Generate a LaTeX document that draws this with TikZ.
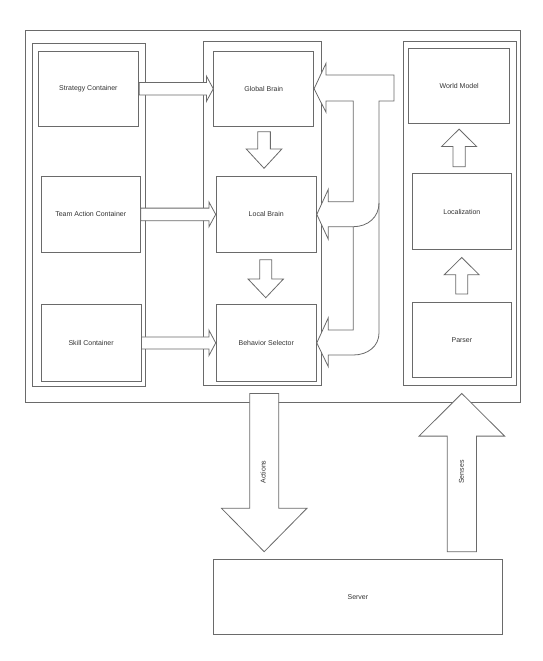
\documentclass[tikz,border=0pt]{standalone}
\usepackage{fontspec}
\setmainfont{Liberation Sans}
\usetikzlibrary{calc}
\definecolor{ln}{HTML}{6A6A6A}
\definecolor{tx}{HTML}{333333}
\tikzset{
  frame/.style={draw=ln, line width=0.8pt},
  box/.style={draw=ln, line width=0.8pt, fill=white, inner sep=0pt, anchor=north west, text=tx,
    font=\fontsize{7}{8.4}\selectfont, align=center},
  blk/.style={draw=ln, line width=0.8pt, fill=white, line join=miter},
  lbl/.style={text=tx, font=\fontsize{7}{8.4}\selectfont, inner sep=0pt}
}
% right-pointing block arrow: from, to, shaft half, head half, head length
\newcommand{\rblock}[5]{%
  \draw[blk] let \p1=(#1), \p2=(#2) in
    (\x1,\y1+#3) -- (\x2-#5,\y1+#3) -- (\x2-#5,\y1+#4) -- (\x2,\y1)
    -- (\x2-#5,\y1-#4) -- (\x2-#5,\y1-#3) -- (\x1,\y1-#3) -- cycle;}
% vertical block arrow: tail point, tip point, shaft half, head half, head length (signed toward tail)
\newcommand{\vblock}[5]{%
  \draw[blk] let \p1=(#1), \p2=(#2) in
    (\x2-#3,\y1) -- (\x2-#3,\y2+#5) -- (\x2-#4,\y2+#5) -- (\x2,\y2)
    -- (\x2+#4,\y2+#5) -- (\x2+#3,\y2+#5) -- (\x2+#3,\y1) -- cycle;}
\begin{document}
\begin{tikzpicture}[x=1pt,y=-1pt]
\useasboundingbox (0,0) rectangle (542,661);

% outer frame and containers
\draw[frame] (25,30) rectangle (520.7,402.7);
\draw[frame] (32.7,43) rectangle (145.3,386.7);
\draw[frame] (203.3,41.3) rectangle (321,385.7);
\draw[frame] (403.3,41.7) rectangle (516.7,385.7);

% boxes
\node[box, minimum width=100.6pt, minimum height=75.3pt] (strat) at (37.7,50.7) {Strategy Container};
\node[box, minimum width=99.3pt, minimum height=76pt] (team) at (40.7,176) {Team Action Container};
\node[box, minimum width=100pt, minimum height=76.4pt] (skill) at (40.7,304.3) {Skill Container};
\node[box, minimum width=100pt, minimum height=75.3pt] (global) at (213.3,50.7) {Global Brain};
\node[box, minimum width=100.3pt, minimum height=76pt] (local) at (215.7,176) {Local Brain};
\node[box, minimum width=100.3pt, minimum height=76.4pt] (behav) at (215.7,304.3) {Behavior Selector};
\node[box, minimum width=101pt, minimum height=75.6pt] (world) at (408.3,47.7) {World Model};
\node[box, minimum width=99.6pt, minimum height=76pt] (loc) at (411.7,173.3) {Localization};
\node[box, minimum width=99.6pt, minimum height=75.3pt] (parser) at (411.7,302) {Parser};
\node[box, minimum width=288.4pt, minimum height=75.3pt] (server) at (213.3,559) {Server};

% left-to-right arrows
\rblock{strat.east}{global.west}{6.3pt}{12.5pt}{6.8pt}
\rblock{team.east}{local.west}{6.3pt}{12.5pt}{6.8pt}
\rblock{skill.east}{behav.west}{6pt}{12.8pt}{6.8pt}

% middle down arrows
\coordinate (d1a) at ($(global.south)+(0.2,5)$);
\coordinate (d1b) at ($(local.north)+(-2.2,-7.7)$);
\vblock{d1a}{d1b}{6.3pt}{17.8pt}{19.3pt}
\coordinate (d2a) at ($(local.south)+(-0.5,7)$);
\coordinate (d2b) at ($(behav.north)+(-0.5,-6.6)$);
\vblock{d2a}{d2b}{6pt}{17.7pt}{18.7pt}

% right up arrows
\coordinate (u1a) at ($(loc.north)+(-2.8,-6.6)$);
\coordinate (u1b) at ($(world.south)+(-0.1,5)$);
\vblock{u1a}{u1b}{6.2pt}{17.5pt}{-17.4pt}
\coordinate (u2a) at ($(parser.north)+(-0.2,-8)$);
\coordinate (u2b) at ($(loc.south)+(-0.2,7.4)$);
\vblock{u2a}{u2b}{6pt}{17.5pt}{-17.3pt}

% feedback arrows into the middle column
\draw[blk] (379,101) -- (394,101) -- (394,75) -- (326,75) -- (326,63.3)
  -- (global.east) -- (326,112.3) -- (326,101) -- (353.3,101)
  -- (353.3,201.7) -- (328.3,201.7) -- (328.3,189.3) -- (local.east)
  -- (328.3,239.3) -- (328.3,226.7) -- (353.3,226.7)
  -- (353.3,330) -- (328.3,330) -- (328.3,317.7) -- (behav.east)
  -- (328.3,366.7) -- (328.3,355) -- (353.3,355)
  .. controls (368,355) and (379,346) .. (379,333) -- cycle;
\draw[frame] (353.3,226.7) .. controls (368,226.7) and (379,217) .. (379,203);

% Actions and Senses
\coordinate (aa) at ($(behav.south)+(-2.2,12)$);
\coordinate (ab) at ($(server.north)+(-93.7,-7.3)$);
\vblock{aa}{ab}{14.5pt}{42.7pt}{43.4pt}
\node[lbl, rotate=90] (act) at (263,472) {Actions};
\coordinate (sa) at ($(server.north)+(104,-7.3)$);
\coordinate (sb) at ($(parser.south)+(-0.1,15.4)$);
\vblock{sa}{sb}{14.6pt}{42.8pt}{-42.6pt}
\node[lbl, rotate=90] (sen) at (461.5,472) {Senses};
\end{tikzpicture}
\end{document}
